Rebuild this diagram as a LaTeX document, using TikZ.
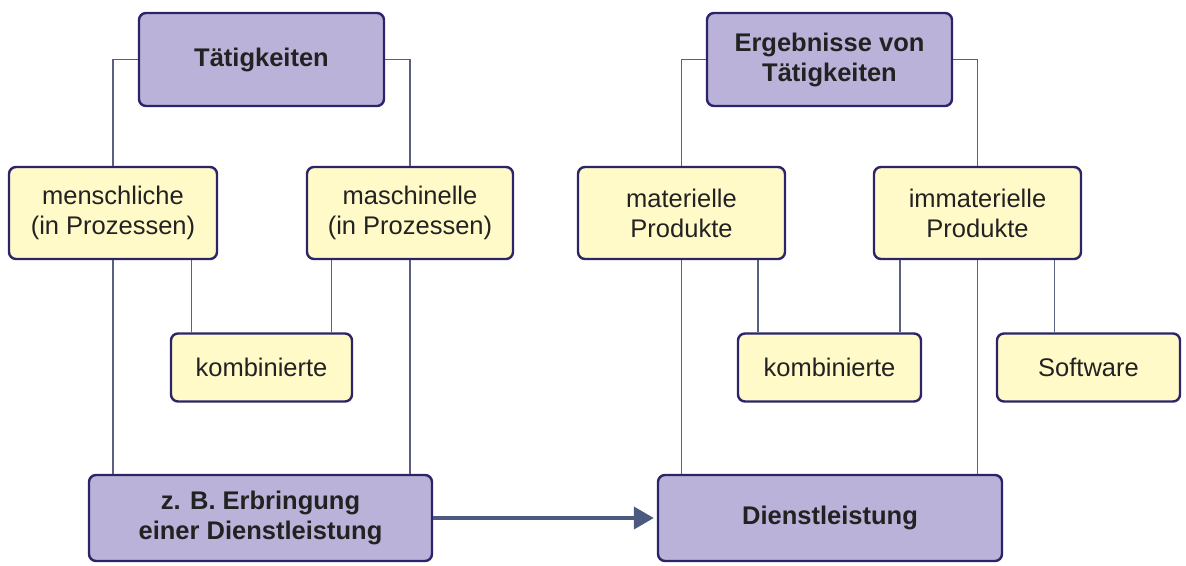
\documentclass[tikz,border=0pt]{standalone}
\usepackage{fontspec}
\setmainfont{Liberation Sans}
\usetikzlibrary{arrows.meta}
\definecolor{lav}{HTML}{BAB2D8}
\definecolor{yel}{HTML}{FFFAC8}
\definecolor{edge}{HTML}{2B2468}
\definecolor{conn}{HTML}{596080}
\definecolor{arrowc}{HTML}{4C5A80}
\definecolor{txt}{HTML}{222222}
\tikzset{
  box/.style={draw=edge, line width=2.4pt, rounded corners=7pt, align=center,
    inner sep=0pt, text=txt, font=\fontsize{25.5}{30}\selectfont},
  headbox/.style={box, fill=lav, font=\fontsize{25.5}{30}\selectfont\bfseries},
  subbox/.style={box, fill=yel},
  link/.style={draw=conn, line width=1.8pt},
}
\begin{document}
\begin{tikzpicture}[x=1pt,y=-1pt]
\useasboundingbox (0,0) rectangle (1186,565);

% left tree: activities
\node[headbox, minimum width=245pt, minimum height=93pt] (t1) at (261.5,59.5) {Tätigkeiten};
\node[subbox, minimum width=208pt, minimum height=92pt] (m1) at (113,213) {menschliche\\(in Prozessen)};
\node[subbox, minimum width=206pt, minimum height=92pt] (m2) at (410,213) {maschinelle\\(in Prozessen)};
\node[subbox, minimum width=181pt, minimum height=68pt] (k1) at (261.5,367.5) {kombinierte};
\node[headbox, minimum width=343pt, minimum height=86pt] (b1) at (260.5,518) {z. B. Erbringung\\einer Dienstleistung};

% right tree: results of activities
\node[headbox, minimum width=245pt, minimum height=93pt] (t2) at (829.5,59.5) {Ergebnisse von\\Tätigkeiten};
\node[subbox, minimum width=207pt, minimum height=92pt] (p1) at (681.5,213) {materielle\\Produkte};
\node[subbox, minimum width=207pt, minimum height=92pt] (p2) at (977.5,213) {immaterielle\\Produkte};
\node[subbox, minimum width=183pt, minimum height=68pt] (k2) at (829.5,367.5) {kombinierte};
\node[subbox, minimum width=183pt, minimum height=68pt] (sw) at (1088.5,367.5) {Software};
\node[headbox, minimum width=344pt, minimum height=86pt] (b2) at (830,518) {Dienstleistung};

% attachment points on the top edges of the lower boxes
\coordinate (k1a) at ([xshift=-70pt]k1.north);
\coordinate (k1b) at ([xshift=70pt]k1.north);
\coordinate (k2a) at ([xshift=-71.5pt]k2.north);
\coordinate (k2b) at ([xshift=70.5pt]k2.north);
\coordinate (swa) at ([xshift=-34pt]sw.north);

% tree connectors
\draw[link] (t1.west) -| (m1.north);
\draw[link] (t1.east) -| (m2.north);
\draw[link] (m1.south) -- (m1.south |- b1.north);
\draw[link] (k1a |- m1.south) -- (k1a);
\draw[link] (k1b |- m2.south) -- (k1b);
\draw[link] (m2.south) -- (m2.south |- b1.north);

\draw[link] (t2.west) -| (p1.north);
\draw[link] (t2.east) -| (p2.north);
\draw[link] (p1.south) -- (p1.south |- b2.north);
\draw[link] (k2a |- p1.south) -- (k2a);
\draw[link] (k2b |- p2.south) -- (k2b);
\draw[link] (p2.south) -- (p2.south |- b2.north);
\draw[link] (swa |- p2.south) -- (swa);

% the activity yields the service
\draw[draw=arrowc, line width=4pt, -{Triangle[length=20pt, width=22pt]}] (b1.east) -- ([xshift=-3pt]b2.west);
\end{tikzpicture}
\end{document}
